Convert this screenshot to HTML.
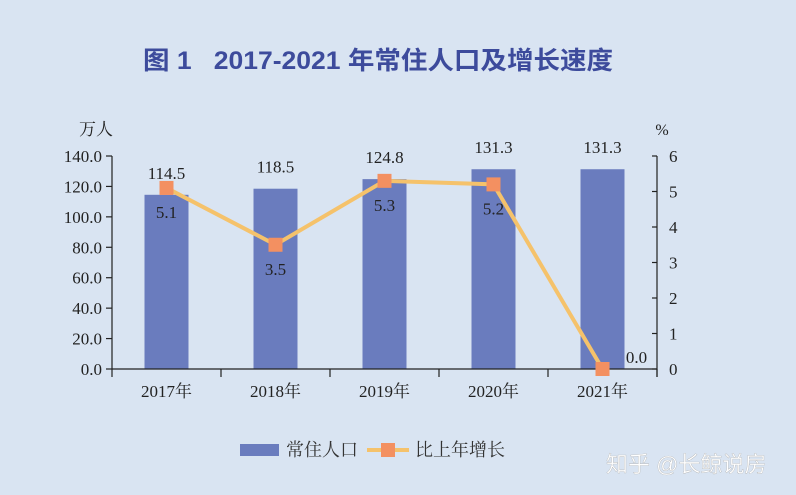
<!DOCTYPE html>
<html><head><meta charset="utf-8"><style>
body{margin:0;width:796px;height:495px;background:#d9e4f2;overflow:hidden;font-family:"Liberation Serif","Noto Serif CJK SC",serif}
svg{display:block}
</style></head><body>
<svg id="chart" width="796" height="495" viewBox="0 0 796 495">
<rect width="796" height="495" fill="#d9e4f2"/>
<text x="143" y="69" textLength="470" lengthAdjust="spacingAndGlyphs" style="white-space:pre" font-family="'Liberation Sans','Noto Sans CJK SC',sans-serif" font-weight="bold" font-size="25" fill="#3d4b9c">图 1   2017-2021 年常住人口及增长速度</text>
<text x="96" y="135" text-anchor="middle" font-size="17" fill="#222">万人</text>
<text x="662" y="135" text-anchor="middle" font-size="16" fill="#222">%</text>
<g id="bars"></g><g id="axes"></g><g id="line"></g><g id="labels"></g>
<g>
<rect x="240" y="444" width="39" height="12" fill="#6a7cbe"/>
<text x="286" y="456" font-size="18" fill="#333">常住人口</text>
<line x1="367" y1="450" x2="409" y2="450" stroke="#f5c26b" stroke-width="4"/>
<rect x="381" y="443" width="14" height="14" fill="#f39061"/>
<text x="415" y="456" font-size="18" fill="#333">比上年增长</text>
</g>
<text x="606" y="472" font-family="'Liberation Sans','Noto Sans CJK SC',sans-serif" font-size="22" fill="#fff" stroke="#aaa" stroke-width="0.3">知乎 @长鲸说房</text>
</svg>
<script>
const categories=["2017年","2018年","2019年","2020年","2021年"];
const population=[114.5,118.5,124.8,131.3,131.3];
const growth=[5.1,3.5,5.3,5.2,0.0];
const leftTicks=[0,20,40,60,80,100,120,140];
const rightTicks=[0,1,2,3,4,5,6];
const NS="http://www.w3.org/2000/svg";
const x0=112,x1=657,yb=369,yt=156;
const band=(x1-x0)/categories.length;
const cx=i=>x0+band*(i+0.5);
const yL=v=>yb-(v/140)*(yb-yt);
const yR=v=>yb-(v/6)*(yb-yt);
function mk(tag,attrs,parent,text){const e=document.createElementNS(NS,tag);for(const k in attrs)e.setAttribute(k,attrs[k]);if(text!==undefined)e.textContent=text;document.getElementById(parent).appendChild(e);return e;}
population.forEach((v,i)=>{
 const r=mk('rect',{x:cx(i)-22,y:yL(v),width:44,height:yb-yL(v),fill:'#6a7cbe'},'bars');
 
 
 const t=mk('text',{x:cx(i),y:yL(v)-16,'text-anchor':'middle','font-size':17,fill:'#222'},'labels',v.toFixed(1));
 
 
 const c=mk('text',{x:cx(i),y:yb+28,'text-anchor':'middle','font-size':17,fill:'#222'},'axes',categories[i]);
 
 
});
mk('line',{x1:x0,y1:yt,x2:x0,y2:yb,stroke:'#222','stroke-width':1.2},'axes');
mk('line',{x1:x1,y1:yt,x2:x1,y2:yb+8,stroke:'#222','stroke-width':1.2},'axes');
mk('line',{x1:x0,y1:yb,x2:x1,y2:yb,stroke:'#222','stroke-width':1.2},'axes');
for(let i=0;i<=categories.length;i++)mk('line',{x1:x0+band*i,y1:yb,x2:x0+band*i,y2:yb+8,stroke:'#222','stroke-width':1.2},'axes');
leftTicks.forEach(v=>{
 mk('line',{x1:x0-6,y1:yL(v),x2:x0,y2:yL(v),stroke:'#222','stroke-width':1.2},'axes');
 const t=mk('text',{x:x0-10,y:yL(v)+6,'text-anchor':'end','font-size':17,fill:'#222'},'axes',v.toFixed(1));
 
 
});
rightTicks.forEach(v=>{
 mk('line',{x1:x1-5,y1:yR(v),x2:x1,y2:yR(v),stroke:'#222','stroke-width':1.2},'axes');
 const t=mk('text',{x:x1+12,y:yR(v)+6,'font-size':17,fill:'#222'},'axes',String(v));
 
 
});
const pl=mk('polyline',{points:growth.map((v,i)=>cx(i)+','+yR(v)).join(' '),fill:'none',stroke:'#f5c26b','stroke-width':4},'line');


growth.forEach((v,i)=>{
 const m=mk('rect',{x:cx(i)-7,y:yR(v)-7,width:14,height:14,fill:'#f39061'},'line');
 
 
 const last=i===growth.length-1;
 const t=mk('text',{x:last?cx(i)+34:cx(i),y:last?yR(v)-6:yR(v)+30,'text-anchor':'middle','font-size':17,fill:'#222'},'labels',v.toFixed(1));
 
 
});
</script>
</body></html>
